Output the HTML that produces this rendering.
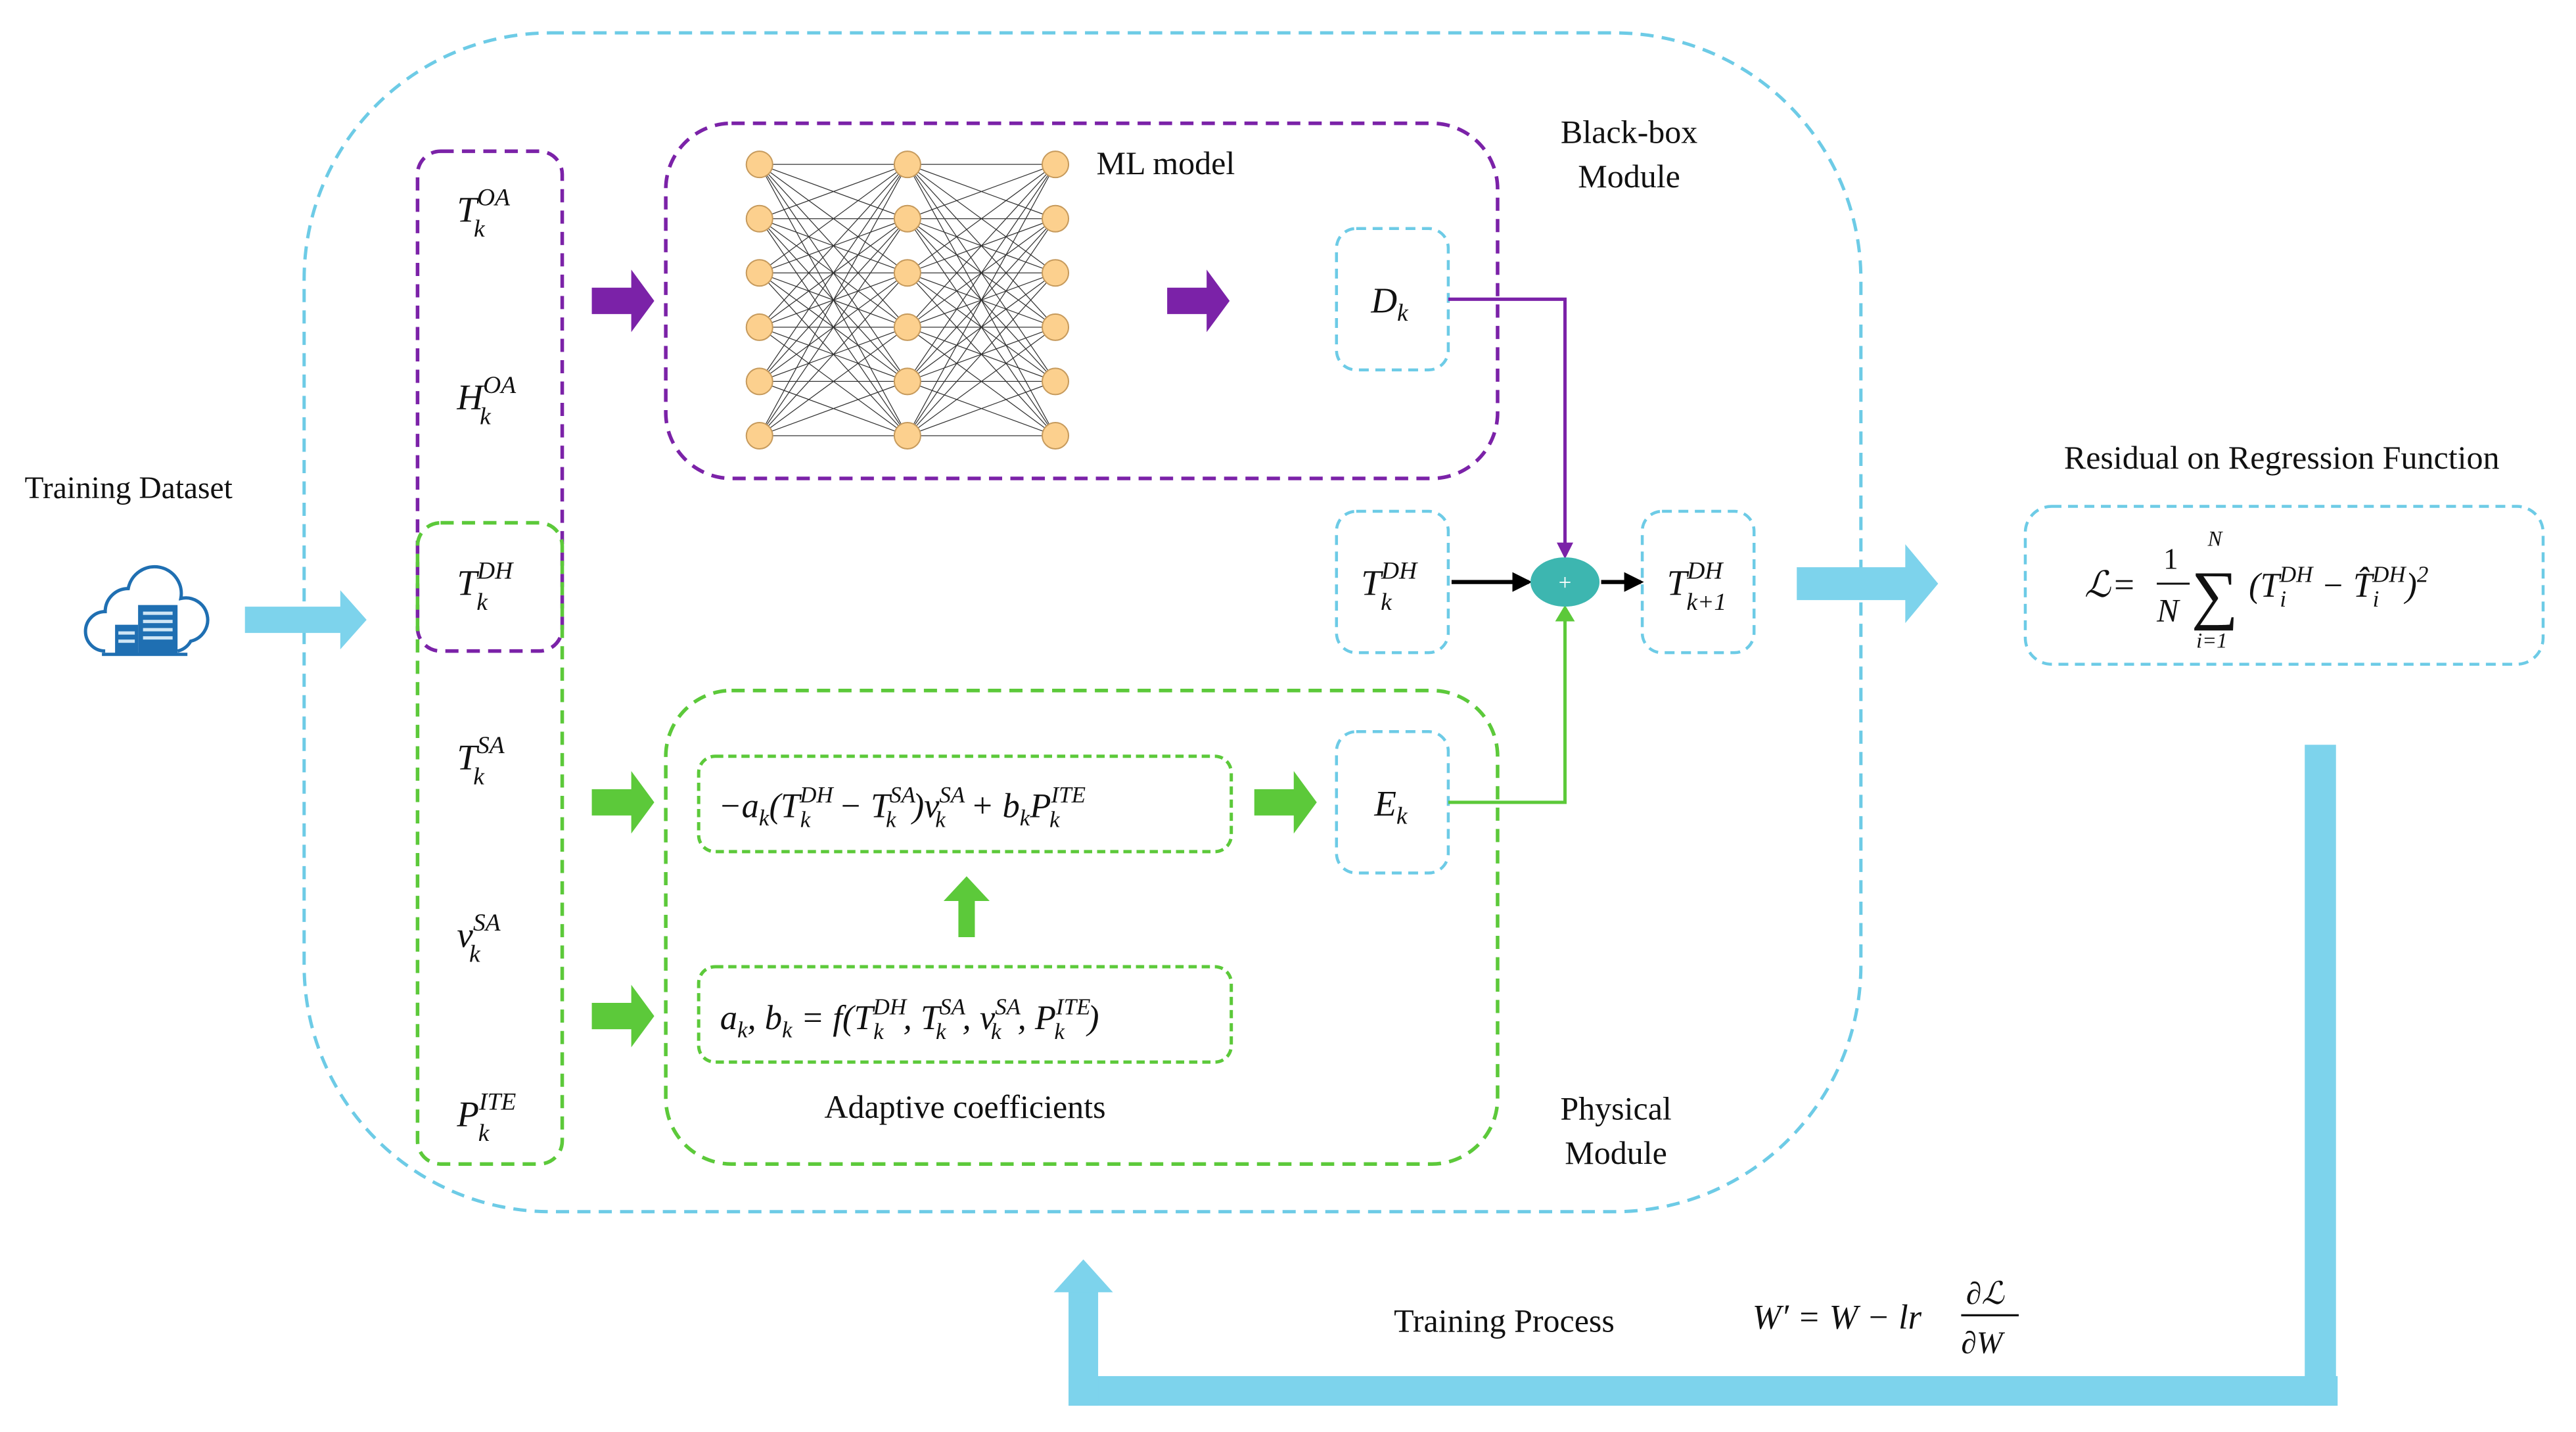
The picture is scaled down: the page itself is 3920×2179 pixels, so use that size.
<!DOCTYPE html>
<html><head><meta charset="utf-8"><style>
html,body{margin:0;padding:0;background:#fff;}
svg{display:block;}
text{font-family:"Liberation Serif","Times New Roman",serif;fill:#111;}
.m{font-style:italic;}
</style></head><body>
<svg width="3920" height="2179" viewBox="0 0 1567 871" preserveAspectRatio="none" xmlns="http://www.w3.org/2000/svg" font-family="Liberation Serif, serif">
<defs>
<marker id="pa" markerWidth="10" markerHeight="10" refX="8" refY="5" orient="auto" markerUnits="userSpaceOnUse"><path d="M0,0 L10,5 L0,10z" fill="#7b22a8"/></marker>
<marker id="ba" markerWidth="12" markerHeight="12" refX="10" refY="6" orient="auto" markerUnits="userSpaceOnUse"><path d="M0,0 L12,6 L0,12z" fill="#000"/></marker>
<marker id="ga" markerWidth="10" markerHeight="12" refX="8" refY="6" orient="auto" markerUnits="userSpaceOnUse"><path d="M0,0 L10,6 L0,12z" fill="#5cc93a"/></marker>
</defs>
<rect x="185" y="20" width="947" height="717" rx="150" fill="none" stroke="#6dcbe6" stroke-width="2" stroke-dasharray="8,5"/>
<rect x="254" y="92" width="88" height="304" rx="14" fill="none" stroke="#7b22a8" stroke-width="2.2" stroke-dasharray="8,5"/>
<rect x="254" y="318" width="88" height="390" rx="14" fill="none" stroke="#5cc93a" stroke-width="2.2" stroke-dasharray="8,5"/>
<rect x="405" y="75" width="506" height="216" rx="40" fill="none" stroke="#7b22a8" stroke-width="2.2" stroke-dasharray="8,5"/>
<rect x="405" y="420" width="506" height="288" rx="40" fill="none" stroke="#5cc93a" stroke-width="2.2" stroke-dasharray="8,5"/>
<rect x="425" y="460" width="324" height="58" rx="10" fill="none" stroke="#5cc93a" stroke-width="2" stroke-dasharray="5,3"/>
<rect x="425" y="588" width="324" height="58" rx="10" fill="none" stroke="#5cc93a" stroke-width="2" stroke-dasharray="5,3"/>
<g fill="none" stroke="#6dcbe6" stroke-width="1.8" stroke-dasharray="6,4">
<rect x="813" y="139" width="68" height="86" rx="12"/>
<rect x="813" y="311" width="68" height="86" rx="12"/>
<rect x="999" y="311" width="68" height="86" rx="12"/>
<rect x="813" y="445" width="68" height="86" rx="12"/>
<rect x="1232" y="308" width="315" height="96" rx="16"/>
</g>
<g stroke="#333" stroke-width="0.5" fill="none">
<path d="M462,100L552,100M462,100L552,133M462,100L552,166M462,100L552,199M462,100L552,232M462,100L552,265M462,133L552,100M462,133L552,133M462,133L552,166M462,133L552,199M462,133L552,232M462,133L552,265M462,166L552,100M462,166L552,133M462,166L552,166M462,166L552,199M462,166L552,232M462,166L552,265M462,199L552,100M462,199L552,133M462,199L552,166M462,199L552,199M462,199L552,232M462,199L552,265M462,232L552,100M462,232L552,133M462,232L552,166M462,232L552,199M462,232L552,232M462,232L552,265M462,265L552,100M462,265L552,133M462,265L552,166M462,265L552,199M462,265L552,232M462,265L552,265"/>
<path d="M552,100L642,100M552,100L642,133M552,100L642,166M552,100L642,199M552,100L642,232M552,100L642,265M552,133L642,100M552,133L642,133M552,133L642,166M552,133L642,199M552,133L642,232M552,133L642,265M552,166L642,100M552,166L642,133M552,166L642,166M552,166L642,199M552,166L642,232M552,166L642,265M552,199L642,100M552,199L642,133M552,199L642,166M552,199L642,199M552,199L642,232M552,199L642,265M552,232L642,100M552,232L642,133M552,232L642,166M552,232L642,199M552,232L642,232M552,232L642,265M552,265L642,100M552,265L642,133M552,265L642,166M552,265L642,199M552,265L642,232M552,265L642,265"/>
</g>
<g fill="#fcd08e" stroke="#c69a5c" stroke-width="0.8">
<circle cx="462" cy="100" r="8"/><circle cx="462" cy="133" r="8"/><circle cx="462" cy="166" r="8"/><circle cx="462" cy="199" r="8"/><circle cx="462" cy="232" r="8"/><circle cx="462" cy="265" r="8"/>
<circle cx="552" cy="100" r="8"/><circle cx="552" cy="133" r="8"/><circle cx="552" cy="166" r="8"/><circle cx="552" cy="199" r="8"/><circle cx="552" cy="232" r="8"/><circle cx="552" cy="265" r="8"/>
<circle cx="642" cy="100" r="8"/><circle cx="642" cy="133" r="8"/><circle cx="642" cy="166" r="8"/><circle cx="642" cy="199" r="8"/><circle cx="642" cy="232" r="8"/><circle cx="642" cy="265" r="8"/>
</g>
<path d="M360,175 h24 v-11 l14,19 l-14,19 v-11 h-24z" fill="#7b22a8"/>
<path d="M710,175 h24 v-11 l14,19 l-14,19 v-11 h-24z" fill="#7b22a8"/>
<path d="M360,480 h24 v-11 l14,19 l-14,19 v-11 h-24z" fill="#5cc93a"/>
<path d="M360,610 h24 v-11 l14,19 l-14,19 v-11 h-24z" fill="#5cc93a"/>
<path d="M763,480 h24 v-11 l14,19 l-14,19 v-11 h-24z" fill="#5cc93a"/>
<path d="M583,570 v-22 h-9 l14,-15 l14,15 h-9 v22z" fill="#5cc93a"/>
<path d="M881,182 H952 V338" fill="none" stroke="#7b22a8" stroke-width="2" marker-end="url(#pa)"/>
<path d="M881,488 H952 V370" fill="none" stroke="#5cc93a" stroke-width="2" marker-end="url(#ga)"/>
<path d="M883,354 H930" stroke="#000" stroke-width="2.5" marker-end="url(#ba)"/>
<path d="M974,354 H998" stroke="#000" stroke-width="2.5" marker-end="url(#ba)"/>
<ellipse cx="952" cy="354" rx="21" ry="15" fill="#3db6b0"/>
<text x="952" y="359" font-size="14" text-anchor="middle" style="fill:#fff">+</text>
<path d="M149,369 h58 v-10 l16,18 l-16,18 v-10 h-58z" fill="#7dd3ec"/>
<path d="M1093,345 h66 v-14 l20,24 l-20,24 v-14 h-66z" fill="#7dd3ec"/>
<rect x="1402" y="453" width="19" height="402" fill="#7dd3ec"/>
<rect x="650" y="837" width="772" height="18" fill="#7dd3ec"/>
<rect x="650" y="785" width="18" height="70" fill="#7dd3ec"/>
<path d="M641,786 L659,766 L677,786z" fill="#7dd3ec"/>
<g fill="none" stroke="#1f6fb2" stroke-width="2">
<path d="M64,396 a12,12 0 0,1 0,-24 a14,14 0 0,1 14,-14 a16,16 0 0,1 32,6 a12,12 0 0,1 6,26 a12,12 0 0,1 -8,6"/>
</g>
<rect x="70" y="380" width="14" height="18" fill="#1f6fb2"/>
<rect x="84" y="368" width="24" height="30" fill="#1f6fb2"/>
<g fill="#cfe6f5"><rect x="72" y="384" width="10" height="2"/><rect x="72" y="389" width="10" height="2"/><rect x="87" y="372" width="18" height="2"/><rect x="87" y="377" width="18" height="2"/><rect x="87" y="382" width="18" height="2"/><rect x="87" y="387" width="18" height="2"/></g>
<rect x="62" y="397" width="52" height="2" fill="#1f6fb2"/>
<text x="15" y="303" font-size="19">Training Dataset</text>
<text x="667" y="106" font-size="20">ML model</text>
<text x="991" y="87" font-size="20" text-anchor="middle">Black-box</text>
<text x="991" y="114" font-size="20" text-anchor="middle">Module</text>
<text x="1388" y="285" font-size="20" text-anchor="middle">Residual on Regression Function</text>
<text x="587" y="680" font-size="20" text-anchor="middle">Adaptive coefficients</text>
<text x="983" y="681" font-size="20" text-anchor="middle">Physical</text>
<text x="983" y="708" font-size="20" text-anchor="middle">Module</text>
<text x="915" y="810" font-size="20" text-anchor="middle">Training Process</text>
<g font-size="22">
<text x="278" y="135" class="m">T<tspan font-size="15" dy="-10">OA</tspan><tspan font-size="15" dx="-22" dy="19">k</tspan></text>
<text x="278" y="249" class="m">H<tspan font-size="15" dy="-10">OA</tspan><tspan font-size="15" dx="-22" dy="19">k</tspan></text>
<text x="278" y="362" class="m">T<tspan font-size="15" dy="-10">DH</tspan><tspan font-size="15" dx="-22" dy="19">k</tspan></text>
<text x="278" y="468" class="m">T<tspan font-size="15" dy="-10">SA</tspan><tspan font-size="15" dx="-19" dy="19">k</tspan></text>
<text x="278" y="576" class="m">v<tspan font-size="15" dy="-10">SA</tspan><tspan font-size="15" dx="-19" dy="19">k</tspan></text>
<text x="278" y="685" class="m">P<tspan font-size="15" dy="-10">ITE</tspan><tspan font-size="15" dx="-23" dy="19">k</tspan></text>
<text x="834" y="190" class="m">D<tspan font-size="15" dy="5">k</tspan></text>
<text x="828" y="362" class="m">T<tspan font-size="15" dy="-10">DH</tspan><tspan font-size="15" dx="-22" dy="19">k</tspan></text>
<text x="1014" y="362" class="m">T<tspan font-size="15" dy="-10">DH</tspan><tspan font-size="15" dx="-22" dy="19">k+1</tspan></text>
<text x="836" y="496" class="m">E<tspan font-size="15" dy="5">k</tspan></text>
<text x="437" y="497" class="m" font-size="21">−a<tspan font-size="14" dy="5">k</tspan><tspan dy="-5">(T</tspan><tspan font-size="14" dy="-9">DH</tspan><tspan font-size="14" dx="-20" dy="15">k</tspan><tspan dx="12" dy="-6"> − T</tspan><tspan font-size="14" dy="-9">SA</tspan><tspan font-size="14" dx="-18" dy="15">k</tspan><tspan dx="10" dy="-6">)v</tspan><tspan font-size="14" dy="-9">SA</tspan><tspan font-size="14" dx="-18" dy="15">k</tspan><tspan dx="10" dy="-6"> + b</tspan><tspan font-size="14" dy="5">k</tspan><tspan dy="-5">P</tspan><tspan font-size="14" dy="-9">ITE</tspan><tspan font-size="14" dx="-22" dy="15">k</tspan></text>
<text x="438" y="626" class="m" font-size="21">a<tspan font-size="14" dy="5">k</tspan><tspan dy="-5">, b</tspan><tspan font-size="14" dy="5">k</tspan><tspan dy="-5"> = f(T</tspan><tspan font-size="14" dy="-9">DH</tspan><tspan font-size="14" dx="-20" dy="15">k</tspan><tspan dx="12" dy="-6">, T</tspan><tspan font-size="14" dy="-9">SA</tspan><tspan font-size="14" dx="-18" dy="15">k</tspan><tspan dx="10" dy="-6">, v</tspan><tspan font-size="14" dy="-9">SA</tspan><tspan font-size="14" dx="-18" dy="15">k</tspan><tspan dx="10" dy="-6">, P</tspan><tspan font-size="14" dy="-9">ITE</tspan><tspan font-size="14" dx="-22" dy="15">k</tspan><tspan dx="14" dy="-6">)</tspan></text>
<text x="1268" y="363" class="m" font-size="22">ℒ</text>
<text x="1286" y="363" font-size="22">=</text>
<text x="1316" y="346" font-size="18">1</text>
<line x1="1312" y1="355" x2="1332" y2="355" stroke="#111" stroke-width="1.2"/>
<text x="1312" y="378" class="m" font-size="20">N</text>
<text x="1333" y="375" font-size="40">∑</text>
<text x="1343" y="332" class="m" font-size="13">N</text>
<text x="1336" y="394" class="m" font-size="13">i=1</text>
<text x="1368" y="363" class="m" font-size="21">(T<tspan font-size="14" dy="-9">DH</tspan><tspan font-size="14" dx="-20" dy="15">i</tspan><tspan dx="16" dy="-6"> − T̂</tspan><tspan font-size="14" dy="-9">DH</tspan><tspan font-size="14" dx="-20" dy="15">i</tspan><tspan dx="16" dy="-6">)</tspan><tspan font-size="14" dy="-9">2</tspan></text>
<text x="1066" y="808" class="m" font-size="21">W′ = W − lr</text>
<text x="1196" y="793" class="m" font-size="19">∂ℒ</text>
<line x1="1193" y1="800" x2="1228" y2="800" stroke="#111" stroke-width="1.3"/>
<text x="1193" y="823" class="m" font-size="19">∂W</text>
</g>
</svg>
</body></html>
